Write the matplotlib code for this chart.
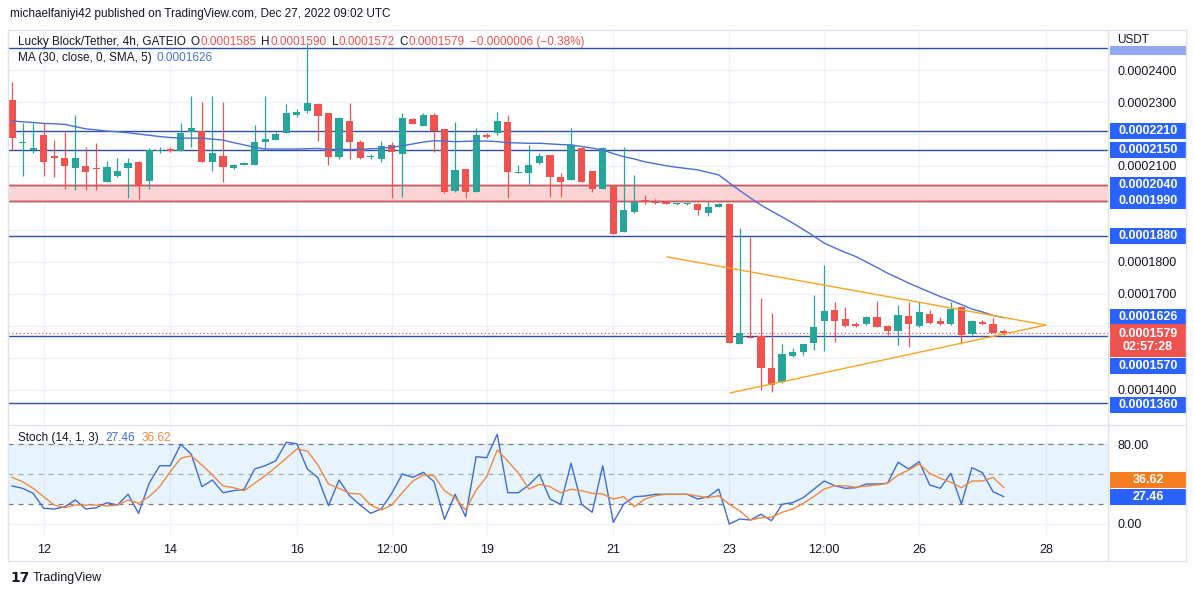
import numpy as np
import matplotlib
matplotlib.use("Agg")
import matplotlib.pyplot as plt
from matplotlib.patches import Rectangle
from matplotlib.lines import Line2D
from matplotlib.transforms import blended_transform_factory

plt.rcParams['font.family'] = ['Liberation Sans', 'DejaVu Sans']

W, H = 1194, 597
S = 1e-7  # prices below are in units of 0.0000001 USDT

# ---- 4h candles, Lucky Block / Tether (GATEIO) ----
opens = [2306, 2172, 2150, 2196, 2131, 2124, 2093, 2100, 2095, 2051,
         2070, 2093, 2113, 2054, 2146, 2153, 2148, 2205, 2208, 2112,
         2131, 2093, 2104, 2104, 2174, 2181, 2202, 2259, 2273, 2294,
         2265, 2129, 2241, 2176, 2128, 2121, 2165, 2137, 2247, 2226,
         2259, 2216, 2023, 2090, 2020, 2197, 2202, 2238, 2079, 2077,
         2110, 2134, 2065, 2056, 2155, 2084, 2027, 2041, 1895, 1957,
         1992, 1988, 1988, 1980, 1980, 1981, 1954, 1973, 1981, 1543,
         1567, 1569, 1468, 1426, 1507, 1520, 1546, 1617, 1650, 1622,
         1606, 1606, 1627, 1600, 1585, 1631, 1600, 1637, 1617, 1606,
         1660, 1574, 1611, 1606, 1585]
highs = [2363, 2235, 2235, 2235, 2181, 2207, 2259, 2160, 2171, 2116,
         2126, 2126, 2116, 2155, 2158, 2158, 2235, 2319, 2301, 2319,
         2301, 2106, 2113, 2228, 2319, 2207, 2294, 2277, 2480, 2296,
         2265, 2254, 2298, 2181, 2137, 2178, 2176, 2265, 2249, 2267,
         2265, 2216, 2237, 2093, 2218, 2204, 2268, 2259, 2103, 2166,
         2142, 2134, 2077, 2218, 2158, 2084, 2158, 2041, 2160, 2072,
         2009, 1996, 1990, 1983, 1983, 1983, 1988, 1985, 1985, 1907,
         1877, 1687, 1642, 1543, 1530, 1545, 1697, 1791, 1676, 1660,
         1614, 1632, 1679, 1602, 1666, 1676, 1676, 1650, 1629, 1676,
         1662, 1618, 1619, 1624, 1590]
lows = [2150, 2070, 2140, 2070, 2067, 2027, 2025, 2025, 2025, 2051,
        2067, 1999, 1996, 2027, 2142, 2145, 2148, 2158, 2113, 2085,
        2051, 2090, 2103, 2104, 2150, 2180, 2202, 2252, 2265, 2179,
        2103, 2122, 2121, 2121, 2122, 2113, 1999, 2004, 2230, 2226,
        2145, 2015, 2020, 1999, 2020, 2187, 2197, 1999, 2078, 2044,
        2106, 2002, 2002, 2056, 2051, 2020, 2027, 1888, 1895, 1952,
        1981, 1981, 1980, 1979, 1979, 1947, 1944, 1972, 1546, 1543,
        1563, 1400, 1395, 1421, 1504, 1509, 1525, 1523, 1551, 1598,
        1598, 1604, 1596, 1572, 1541, 1535, 1598, 1606, 1604, 1604,
        1543, 1572, 1604, 1577, 1572]
closes = [2187, 2175, 2155, 2113, 2126, 2101, 2124, 2082, 2091, 2096,
          2085, 2108, 2038, 2150, 2150, 2146, 2202, 2218, 2113, 2140,
          2096, 2104, 2110, 2174, 2184, 2200, 2267, 2270, 2298, 2256,
          2129, 2249, 2174, 2126, 2130, 2162, 2145, 2249, 2230, 2259,
          2209, 2020, 2088, 2018, 2197, 2190, 2241, 2080, 2081, 2103,
          2131, 2065, 2049, 2166, 2051, 2027, 2155, 1888, 1963, 1988,
          1990, 1983, 1981, 1982, 1982, 1962, 1971, 1981, 1546, 1577,
          1564, 1468, 1416, 1512, 1519, 1543, 1596, 1647, 1617, 1600,
          1600, 1629, 1598, 1585, 1634, 1606, 1643, 1608, 1606, 1652,
          1572, 1616, 1606, 1579, 1579]
ma30 = [2241, 2238, 2236, 2233, 2232, 2230, 2223, 2216, 2213, 2209,
        2207, 2204, 2200, 2196, 2192, 2189, 2187, 2187, 2187, 2184,
        2181, 2173, 2166, 2158, 2153, 2153, 2153, 2153, 2154, 2155,
        2152, 2152, 2152, 2152, 2154, 2155, 2159, 2163, 2169, 2175,
        2179, 2178, 2176, 2177, 2178, 2178, 2176, 2173, 2172, 2171,
        2171, 2169, 2167, 2166, 2161, 2156, 2150, 2139, 2129, 2122,
        2113, 2107, 2101, 2096, 2092, 2088, 2080, 2072, 2047, 2023,
        2000, 1978, 1959, 1941, 1922, 1902, 1881, 1859, 1844, 1830,
        1817, 1800, 1783, 1765, 1750, 1734, 1720, 1706, 1692, 1680,
        1667, 1653, 1644, 1633, 1626]

stoch_k = [38, 35.7, 30.7, 15.7, 15, 17.3, 24, 15, 16.3, 21.3,
           19, 29.7, 10.7, 40.7, 58.3, 58.3, 79.7, 69.7, 37.3, 44,
           31.3, 33.3, 34.7, 55, 58.3, 63.3, 81.7, 80.3, 55, 46.3,
           18.3, 44, 28.3, 19, 10.7, 15, 30.7, 50, 46.7, 51.7,
           42.3, 4.7, 29.7, 7.3, 67.3, 66.3, 89.7, 31.3, 31.3, 39,
           49.7, 25, 19.7, 60.7, 19.7, 11.7, 58.3, 1.7, 20, 27.3,
           28, 29.7, 29.7, 29.7, 29.7, 25, 27.3, 35, 0, 5,
           4, 9.7, 3.3, 19.7, 21.3, 26.3, 34.7, 43, 38.3, 35.7,
           36.3, 40, 40, 40.7, 61.7, 55, 62.3, 39, 35.7, 50.7,
           20, 56.3, 51.3, 32.3, 27.46]
stoch_d = [46.7, 42.3, 35.7, 27.3, 19, 16.3, 19, 19, 19, 18,
           19, 24, 20.7, 27.3, 37.3, 52.3, 65.7, 68.3, 59, 49,
           38, 36.3, 33.3, 40.7, 48.3, 56.7, 65.7, 75, 73, 59,
           40, 35.7, 30.7, 30, 19, 14, 19, 31.3, 43, 49,
           48.3, 33.3, 26.3, 14, 34, 47.3, 74, 63, 51, 35,
           39.7, 37.3, 31.3, 34.7, 33.3, 30.7, 30, 25, 27.3, 17.3,
           25, 28.3, 29.7, 29.7, 29.7, 28, 26.3, 28.3, 19.7, 13,
           4, 6.3, 6.7, 11.7, 15, 20.7, 27.3, 35, 38.3, 38.3,
           36.7, 38, 39, 40.7, 49, 54, 60, 50.7, 45.7, 41.7,
           36.3, 43, 43, 46.7, 36.62]

# horizontal levels and drawings
levels = [2469, 2210, 2150, 2040, 1990, 1880, 1570, 1360]
zone = [1990, 2040]
tri_up_x, tri_up_y = [62.1, 98.0], [1816, 1603]
tri_lo_x, tri_lo_y = [68.1, 98.0], [1391, 1603]
last_price = 1579
scale_labels = [2400, 2300, 2100, 1800, 1700, 1400]

tick_pos = [3, 15, 27, 36, 45, 57, 68, 77, 86, 98]
tick_lab = ['12', '14', '16', '12:00', '19', '21', '23', '12:00', '26', '28']

TEAL, RED = '#26a69a', '#ef5350'
LINE_BLUE = '#2c4f9e'
TAG_BLUE = '#2962ff'
MA_BLUE = '#4a6fd6'
K_BLUE, D_ORANGE = '#3f6bd8', '#f0883e'
GRID = '#f0f3fa'
TXT = '#131722'

fig = plt.figure(figsize=(W / 100, H / 100), dpi=100)
fig.patch.set_facecolor('white')
ax = fig.add_axes([8 / W, 1 - 424 / H, 1100 / W, 394 / H])
st = fig.add_axes([8 / W, 1 - 537 / H, 1100 / W, 112 / H], sharex=ax)

x = np.arange(len(opens))
o, h, l, c = (np.array(a) * S for a in (opens, highs, lows, closes))
col = np.where(c >= o, TEAL, RED)

# levels
for lv in levels:
    ax.axhline(lv * S, color=LINE_BLUE, lw=1, zorder=2)
ax.axhspan(zone[0] * S, zone[1] * S, facecolor='#fbd5d5', edgecolor='none', zorder=1)
ax.axhline(zone[1] * S, color='#e0504a', lw=1, zorder=2)
ax.axhline(zone[0] * S + 1.2 * S, color='#e0504a', lw=1, zorder=2)
ax.axhline(last_price * S, color=RED, lw=0.9, ls=(0, (1, 2)), zorder=2)

# candles
ax.vlines(x, l, h, colors=col, lw=0.9, zorder=3)
body_lo = np.minimum(o, c)
body_h = np.maximum(np.abs(c - o), 3 * S)
ax.bar(x, body_h, bottom=body_lo, width=0.68, color=col, linewidth=0, zorder=3)

ax.plot(x, np.array(ma30) * S, color=MA_BLUE, lw=1, zorder=4)
ax.plot(tri_up_x, np.array(tri_up_y) * S, color='#f5a623', lw=1, zorder=4)
ax.plot(tri_lo_x, np.array(tri_lo_y) * S, color='#f5a623', lw=1, zorder=4)

ax.set_xlim(-0.38, 103.9)
ax.set_ylim(1293.75 * S, 2525 * S)
gt = np.arange(1400, 2500, 100)
ax.set_yticks(gt * S)
ax.set_yticklabels(['%.7f' % (v * S) if v in scale_labels else '' for v in gt])
ax.yaxis.tick_right()
ax.tick_params(axis='y', length=0, pad=6.5, labelsize=9, labelcolor=TXT)
ax.set_xticks(tick_pos)
ax.tick_params(axis='x', length=0, labelbottom=False)
ax.grid(True, color=GRID, lw=1)
ax.set_axisbelow(True)

# stochastic
st.axhspan(20, 80, facecolor='#2196f3', alpha=0.1, edgecolor='none')
for v, a in ((80, 1), (50, 0.6), (20, 1)):
    st.axhline(v, color='#787b86', lw=0.9, ls=(0, (4, 4)), alpha=a)
st.plot(x, stoch_k, color=K_BLUE, lw=1)
st.plot(x, stoch_d, color=D_ORANGE, lw=1)
st.set_ylim(-13, 99)
st.set_yticks([0, 80])
st.set_yticklabels(['0.00', '80.00'])
st.yaxis.tick_right()
st.tick_params(axis='y', length=0, pad=6.5, labelsize=9, labelcolor=TXT)
st.set_xticks(tick_pos)
st.set_xticklabels(tick_lab)
st.tick_params(axis='x', length=0, pad=5, labelsize=9, labelcolor=TXT)
st.grid(True, color=GRID, lw=1)
st.set_axisbelow(True)

for a in (ax, st):
    for s in a.spines.values():
        s.set_visible(False)

TAG_X0, TAG_W = 1102 / 1100, 76 / 1100


def tag(axis, yval, label, color, off_px=0, h_px=16, fs=9):
    lo, hi = axis.get_ylim()
    upp = (hi - lo) / (axis.get_position().height * H)
    yc = yval - off_px * upp
    tr = blended_transform_factory(axis.transAxes, axis.transData)
    axis.add_patch(Rectangle((TAG_X0, yc - h_px * upp / 2), TAG_W, h_px * upp,
                             transform=tr, facecolor=color, edgecolor='none',
                             clip_on=False, zorder=10))
    if label:
        axis.text(TAG_X0 + TAG_W / 2, yc, label, transform=tr, ha='center', va='center',
                  color='white', fontsize=fs, fontweight='bold', clip_on=False, zorder=11,
                  linespacing=1.15)


for lv, off in ((2210, 0), (2150, 0), (2040, 0), (1990, 0), (1880, 0), (1570, 30), (1360, 2)):
    tag(ax, lv * S, '%.7f' % (lv * S), TAG_BLUE, off)
tag(ax, ma30[-1] * S, '%.7f' % (ma30[-1] * S), TAG_BLUE, -1)
tag(ax, last_price * S, '%.7f\n02:57:28' % (last_price * S), RED, 8, h_px=33)
tag(st, stoch_d[-1], '%.2f' % stoch_d[-1], '#f57c1f', -7)
tag(st, stoch_k[-1], '%.2f' % stoch_k[-1], TAG_BLUE, 0)

# top level's tag sits under the USDT header
tag(ax, levels[0] * S, '', '#8fa8f0', 2, h_px=10)
fig.patches.append(Rectangle((1110 / W, 1 - 46 / H), 76 / W, 14 / H, transform=fig.transFigure,
                             facecolor='white', edgecolor='none', zorder=20))


def ftext(px, py, s, color=TXT, fs=8.5, **kw):
    t = fig.text(px / W, 1 - py / H, s, color=color, fontsize=fs, va='center', ha='left', **kw)
    t.set_zorder(25)
    return t


def flow(px, py, pieces, fs=8.5):
    r = fig.canvas.get_renderer()
    for s, color, gap in pieces:
        t = ftext(px, py, s, color, fs)
        px += t.get_window_extent(r).width + gap


ftext(1117, 40, 'USDT', fs=8.5)

# frame
for (x0, y0, x1, y1) in ((8, 30, 1186, 30), (8, 561, 1186, 561), (8, 30, 8, 561),
                         (1186, 30, 1186, 561), (8, 424.5, 1186, 424.5), (1108, 30, 1108, 561)):
    fig.add_artist(Line2D([x0 / W, x1 / W], [1 - y0 / H, 1 - y1 / H], color='#e0e3eb', lw=1))

# titles
ftext(10, 14, 'michaelfaniyi42 published on TradingView.com, Dec 27, 2022 09:02 UTC', fs=8.5)
flow(18, 42, [('Lucky Block/Tether, 4h, GATEIO', TXT, 5),
              ('O', TXT, 0.5), ('0.0001585', RED, 5),
              ('H', TXT, 0.5), ('0.0001590', RED, 5),
              ('L', TXT, 0.5), ('0.0001572', RED, 5),
              ('C', TXT, 0.5), ('0.0001579', RED, 5),
              ('\u22120.0000006 (\u22120.38%)', RED, 0)])
flow(18, 58, [('MA (30, close, 0, SMA, 5)', TXT, 5),
              ('%.7f' % (ma30[-1] * S), MA_BLUE, 0)])
flow(18, 438, [('Stoch (14, 1, 3)', TXT, 7),
               ('%.2f' % stoch_k[-1], K_BLUE, 6),
               ('%.2f' % stoch_d[-1], D_ORANGE, 0)])

ftext(10, 578, '17', fs=10, fontweight='heavy', family='DejaVu Sans')
ftext(33, 578, 'TradingView', fs=9)

fig.savefig('out.png', dpi=100)
